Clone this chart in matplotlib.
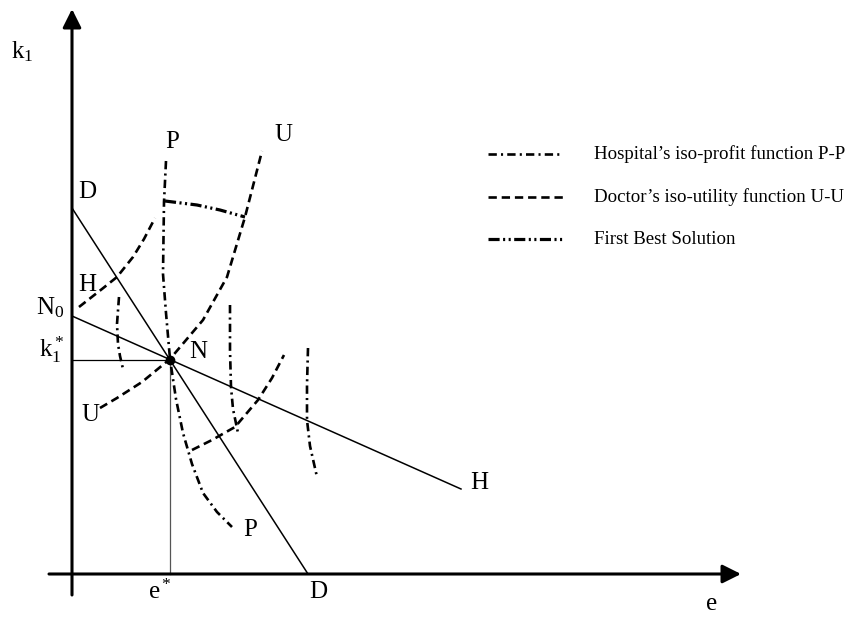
import numpy as np
import matplotlib
matplotlib.use('Agg')
import matplotlib.pyplot as plt

plt.rcParams['font.family'] = ['Liberation Serif', 'DejaVu Serif']
plt.rcParams['mathtext.fontset'] = 'custom'
plt.rcParams['mathtext.rm'] = 'Liberation Serif'
plt.rcParams['mathtext.it'] = 'Liberation Serif:italic'
plt.rcParams['lines.scale_dashes'] = False

# diagram coordinates (e, k1), origin at the axes crossing
D_line_e = [0, 236]
D_line_k = [366, 0]
H_line_e = [0, 389]
H_line_k = [258, 85]
N_e, N_k = 98, 214

# hospital's iso-profit curves P-P
P_main_e = [94, 92, 91, 94, 98, 104, 111, 120, 131, 145, 160]
P_main_k = [413, 372, 300, 261, 215, 175, 141, 110, 81, 62, 47]
P_left_e = [47, 45, 46, 48, 51]
P_left_k = [277, 250, 230, 218, 205]
P_mid_e = [158, 158, 159, 161, 166]
P_mid_k = [269, 224, 187, 165, 141]
P_right_e = [236, 235, 235, 238, 245]
P_right_k = [226, 189, 154, 128, 97]

# doctor's iso-utility curves U-U
U_upper_e = [7, 30, 45, 61, 72, 83]
U_upper_k = [267, 285, 297, 317, 335, 356]
U_main_e = [28, 45, 70, 98, 131, 155, 173, 190]
U_main_k = [166, 176, 192, 215, 254, 297, 357, 423]
U_lower_e = [120, 140, 163, 186, 200, 212]
U_lower_k = [124, 134, 147, 174, 196, 219]

# first best solution
FB_e = [93, 125, 148, 173]
FB_k = [373, 369, 364, 357]

legend_labels = ["Hospital\u2019s iso-profit function P-P",
                 "Doctor\u2019s iso-utility function U-U",
                 "First Best Solution"]

fig = plt.figure(figsize=(8.54, 6.17), dpi=100)
ax = fig.add_axes([0, 0, 1, 1])
ax.set_xlim(-72, 782)
ax.set_ylim(-43, 574)
ax.axis('off')

# axes with arrows
arrow = dict(arrowstyle='-|>', lw=2.2, color='black', mutation_scale=28,
             shrinkA=0, shrinkB=0)
ax.annotate('', xy=(0, 565), xytext=(0, -21), arrowprops=arrow)
ax.annotate('', xy=(669, 0), xytext=(-23, 0), arrowprops=arrow)

dashdot = (0, (6, 3, 1.5, 3))
dashed = (0, (6, 3.5))
dashdotdot = (0, (8, 2.5, 1.5, 2.5, 1.5, 2.5))

ax.plot(D_line_e, D_line_k, color='black', lw=1.1)
ax.plot(H_line_e, H_line_k, color='black', lw=1.1)
ax.plot([0, N_e], [N_k, N_k], color='black', lw=0.9)
ax.plot([N_e, N_e], [0, N_k], color='#555555', lw=0.9)

for xs, ys in [(P_main_e, P_main_k), (P_left_e, P_left_k),
               (P_mid_e, P_mid_k), (P_right_e, P_right_k)]:
    ax.plot(xs, ys, color='black', lw=1.9, linestyle=dashdot)
for xs, ys in [(U_upper_e, U_upper_k), (U_main_e, U_main_k),
               (U_lower_e, U_lower_k)]:
    ax.plot(xs, ys, color='black', lw=1.9, linestyle=dashed)
ax.plot(FB_e, FB_k, color='black', lw=2.3, linestyle=dashdotdot)

ax.plot([N_e], [N_k], 'o', color='black', markersize=6)

# legend
leg_k = [420, 377, 335]
for (ls, lw), kk, lab in zip([(dashdot, 1.9), (dashed, 1.9), (dashdotdot, 2.3)],
                             leg_k, legend_labels):
    ax.plot([416, 491], [kk, kk], color='black', lw=lw, linestyle=ls)
    ax.text(522, kk, lab, fontsize=13.6, va='center', ha='left')

# labels
fs = 18
labels = [
    (r'$\mathrm{k}_1$', -50, 522),
    ('D', 15, 382), ('P', 100, 432), ('U', 211, 439),
    ('H', 15, 289), (r'$\mathrm{N}_0$', -22, 266),
    (r'$\mathrm{k}_1^*$', -20, 224), ('N', 126, 222),
    ('U', 18, 159), ('P', 178, 44), ('H', 407, 91),
    (r'$\mathrm{e}^*$', 88, -18), ('D', 246, -18), ('e', 640, -30),
]
for s, x, y in labels:
    ax.text(x, y, s, fontsize=fs, ha='center', va='center')

fig.savefig('out.png', dpi=100)
